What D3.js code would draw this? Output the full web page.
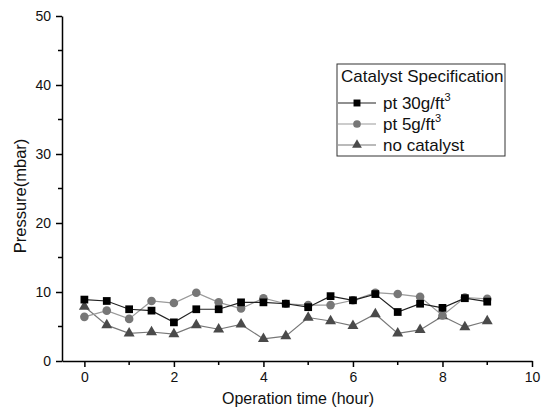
<!DOCTYPE html>
<html>
<head>
<meta charset="utf-8">
<script src="https://cdn.jsdelivr.net/npm/d3@7"></script>
<style>
  body { margin: 0; background: #fff; }
  text { font-family: "Liberation Sans", Arial, sans-serif; }
</style>
</head>
<body>
<script>
// operation time (hour)
var hours = [0, 0.5, 1, 1.5, 2, 2.5, 3, 3.5, 4, 4.5, 5, 5.5, 6, 6.5, 7, 7.5, 8, 8.5, 9];

// pressure (mbar) per catalyst
var pt30 = [8.9, 8.7, 7.5, 7.3, 5.6, 7.5, 7.5, 8.5, 8.5, 8.3, 7.8, 9.4, 8.8, 9.7, 7.1, 8.3, 7.7, 9.1, 8.6];
var pt5  = [6.4, 7.3, 6.1, 8.7, 8.4, 9.9, 8.5, 7.6, 9.1, 8.3, 8.1, 8.1, 8.8, 9.9, 9.7, 9.3, 6.6, 9.2, 9.0];
var noCat = [7.9, 5.2, 4.0, 4.2, 3.9, 5.2, 4.6, 5.3, 3.2, 3.6, 6.3, 5.8, 5.1, 6.8, 4.0, 4.5, 6.5, 4.9, 5.8];

var xTicks = [0, 2, 4, 6, 8, 10];
var yTicks = [0, 10, 20, 30, 40, 50];

var width = 548, height = 410;

var svg = d3.select("body")
    .append("svg")
    .attr("width", width)
    .attr("height", height);

var x = d3.scaleLinear()
    .domain([-0.5, 10])
    .range([62, 532]);
var y = d3.scaleLinear()
    .domain([0, 50])
    .range([361, 16]);

// minor ticks first, then the major ones drawn by the axis
var xMinor = [1, 3, 5, 7, 9];
var yMinor = [5, 15, 25, 35, 45];

svg.selectAll(".xminor")
    .data(xMinor)
    .enter()
    .append("line")
    .attr("x1", function(d) { return x(d); })
    .attr("x2", function(d) { return x(d); })
    .attr("y1", y(0))
    .attr("y2", y(0) + 4)
    .style("stroke", "black")
    .style("stroke-width", 1.5);

svg.selectAll(".yminor")
    .data(yMinor)
    .enter()
    .append("line")
    .attr("x1", x(-0.5))
    .attr("x2", x(-0.5) - 4)
    .attr("y1", function(d) { return y(d); })
    .attr("y2", function(d) { return y(d); })
    .style("stroke", "black")
    .style("stroke-width", 1.5);

var xAxis = svg.append("g")
    .attr("transform", "translate(0," + y(0) + ")")
    .call(d3.axisBottom(x).tickValues(xTicks).tickSize(6).tickPadding(5).tickSizeOuter(0));

var yAxis = svg.append("g")
    .attr("transform", "translate(" + x(-0.5) + ",0)")
    .call(d3.axisLeft(y).tickValues(yTicks).tickSize(6).tickPadding(5).tickSizeOuter(0));

[xAxis, yAxis].forEach(function(a) {
    a.select(".domain").style("stroke", "black").style("stroke-width", 1.5);
    a.selectAll(".tick line").style("stroke", "black").style("stroke-width", 1.5);
    a.selectAll(".tick text")
        .style("font-family", "'Liberation Sans', Arial, sans-serif")
        .style("font-size", "14px")
        .attr("fill", "#111");
});

svg.append("text")
    .attr("x", 298)
    .attr("y", 404)
    .attr("text-anchor", "middle")
    .style("font-size", "16px")
    .attr("fill", "#111")
    .text("Operation time (hour)");

svg.append("text")
    .attr("transform", "translate(26,196) rotate(-90)")
    .attr("text-anchor", "middle")
    .style("font-size", "16.5px")
    .attr("fill", "#111")
    .text("Pressure(mbar)");

var series = [
    { name: "pt30", values: pt30, line: "#222", fill: "#000", shape: d3.symbolSquare, size: 60 },
    { name: "pt5", values: pt5, line: "#9a9a9a", fill: "#777", shape: d3.symbolCircle, size: 58 },
    { name: "none", values: noCat, line: "#777", fill: "#4a4a4a", shape: d3.symbolTriangle, size: 52 }
];

var line = d3.line()
    .x(function(d) { return x(d[0]); })
    .y(function(d) { return y(d[1]); });

// draw back to front so squares end up on top
series.slice().reverse().forEach(function(s) {
    var pts = hours.map(function(h, i) { return [h, s.values[i]]; });
    svg.append("path")
        .datum(pts)
        .attr("d", line)
        .style("fill", "none")
        .style("stroke", s.line)
        .style("stroke-width", 1.2);
    svg.selectAll(".pt-" + s.name)
        .data(pts)
        .enter()
        .append("path")
        .attr("class", "pt-" + s.name)
        .attr("d", d3.symbol().type(s.shape).size(s.size))
        .attr("transform", function(d) { return "translate(" + x(d[0]) + "," + y(d[1]) + ")"; })
        .style("fill", s.fill);
});

// legend
var lg = svg.append("g").attr("transform", "translate(337,64)");
lg.append("rect")
    .attr("width", 168)
    .attr("height", 92)
    .style("fill", "white")
    .style("stroke", "#333")
    .style("stroke-width", 1);
lg.append("text")
    .attr("x", 4)
    .attr("y", 18)
    .style("font-size", "17px")
    .attr("fill", "#111")
    .text("Catalyst Specification");

var labels = [
    { s: series[0], txt: "pt 30g/ft", sup: "3", dy: 39 },
    { s: series[1], txt: "pt 5g/ft", sup: "3", dy: 60 },
    { s: series[2], txt: "no catalyst", sup: "", dy: 81 }
];
labels.forEach(function(l) {
    lg.append("line")
        .attr("x1", 1).attr("x2", 39)
        .attr("y1", l.dy).attr("y2", l.dy)
        .style("stroke", l.s.line)
        .style("stroke-width", 1.2);
    lg.append("path")
        .attr("d", d3.symbol().type(l.s.shape).size(l.s.size * 0.8))
        .attr("transform", "translate(20," + l.dy + ")")
        .style("fill", l.s.fill);
    var t = lg.append("text")
        .attr("x", 46)
        .attr("y", l.dy + 6)
        .style("font-size", "17px")
        .attr("fill", "#111")
        .text(l.txt);
    if (l.sup) {
        t.append("tspan")
            .attr("dy", -8)
            .style("font-size", "11px")
            .text(l.sup);
    }
});
</script>
</body>
</html>
